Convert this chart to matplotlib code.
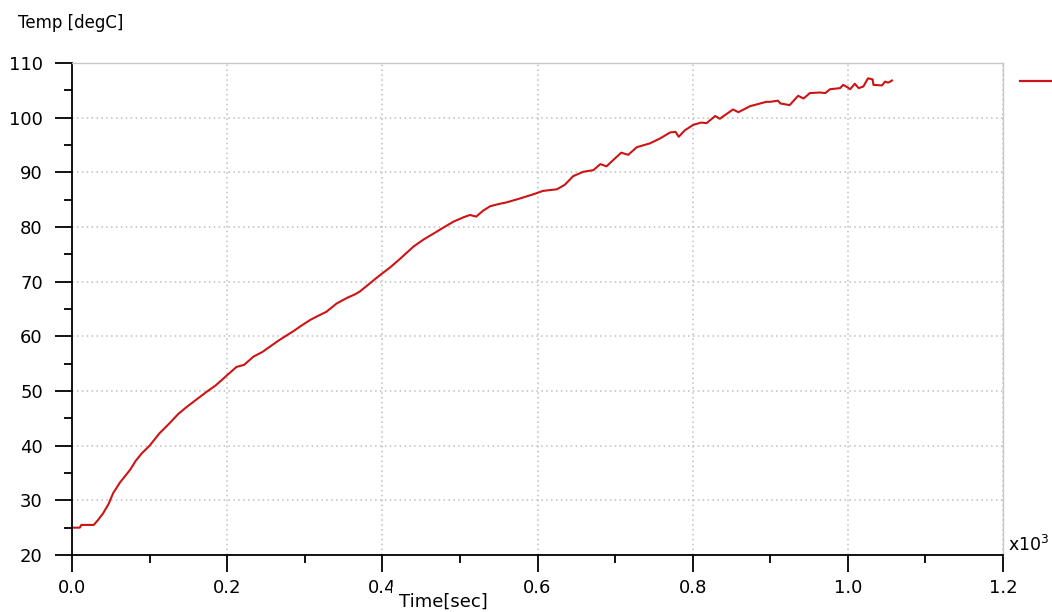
import matplotlib
matplotlib.use("Agg")
import matplotlib.pyplot as plt
from matplotlib.lines import Line2D
from matplotlib.ticker import MultipleLocator, FormatStrFormatter

# time in units of 10^3 s, temperature in degC
time_ks = [0.000, 0.010, 0.012, 0.028, 0.033, 0.040, 0.047, 0.053, 0.062, 0.075,
           0.082, 0.090, 0.100, 0.113, 0.125, 0.137, 0.148, 0.160, 0.174, 0.185,
           0.193, 0.200, 0.212, 0.222, 0.234, 0.245, 0.255, 0.266, 0.277, 0.286,
           0.294, 0.307, 0.318, 0.328, 0.341, 0.354, 0.365, 0.371, 0.384, 0.397,
           0.410, 0.423, 0.440, 0.453, 0.466, 0.480, 0.492, 0.505, 0.513, 0.521,
           0.530, 0.539, 0.550, 0.560, 0.577, 0.595, 0.607, 0.625, 0.635, 0.646,
           0.659, 0.672, 0.681, 0.689, 0.698, 0.708, 0.717, 0.728, 0.745, 0.758,
           0.771, 0.778, 0.782, 0.790, 0.801, 0.811, 0.818, 0.829, 0.835, 0.852,
           0.859, 0.874, 0.895, 0.900, 0.910, 0.913, 0.925, 0.936, 0.943, 0.951,
           0.964, 0.971, 0.977, 0.990, 0.994, 0.999, 1.003, 1.009, 1.014, 1.020,
           1.026, 1.032, 1.033, 1.044, 1.048, 1.052, 1.057]
temp_c = [25.0, 25.0, 25.5, 25.5, 26.3, 27.6, 29.3, 31.3, 33.3, 35.6,
          37.2, 38.6, 40.0, 42.3, 44.0, 45.8, 47.1, 48.4, 49.9, 51.0,
          52.0, 52.9, 54.4, 54.8, 56.3, 57.1, 58.1, 59.2, 60.2, 61.0,
          61.8, 63.0, 63.8, 64.5, 66.0, 67.0, 67.7, 68.2, 69.7, 71.2,
          72.6, 74.2, 76.4, 77.7, 78.8, 80.0, 81.0, 81.8, 82.2, 81.9,
          83.0, 83.8, 84.2, 84.5, 85.2, 86.0, 86.6, 86.9, 87.7, 89.3,
          90.1, 90.4, 91.5, 91.1, 92.3, 93.6, 93.2, 94.6, 95.3, 96.2,
          97.3, 97.4, 96.5, 97.7, 98.7, 99.1, 99.0, 100.3, 99.8, 101.5,
          101.0, 102.1, 102.9, 102.9, 103.1, 102.6, 102.3, 104.0, 103.5, 104.5,
          104.6, 104.5, 105.2, 105.4, 106.0, 105.6, 105.2, 106.2, 105.4, 105.7,
          107.2, 107.0, 106.0, 105.9, 106.6, 106.4, 106.8]

x_major = [0.0, 0.2, 0.4, 0.6, 0.8, 1.0, 1.2]
y_major = [20, 30, 40, 50, 60, 70, 80, 90, 100, 110]

line_color = "#cc1414"

fig = plt.figure(figsize=(10.52, 6.12), dpi=100)
ax = fig.add_axes([72 / 1052, 1 - 555 / 612, (1003 - 72) / 1052, (555 - 63) / 612])

ax.plot(time_ks, temp_c, color=line_color, lw=1.5, solid_joinstyle="round")

ax.set_xlim(0, 1.2)
ax.set_ylim(20, 110)
ax.set_xticks(x_major)
ax.set_yticks(y_major)
ax.xaxis.set_minor_locator(MultipleLocator(0.1))
ax.yaxis.set_minor_locator(MultipleLocator(5))
ax.xaxis.set_major_formatter(FormatStrFormatter("%.1f"))

ax.grid(True, which="major", color="#bdbdbd", linestyle=(0, (1, 2.2)), lw=1.1)
ax.set_axisbelow(True)

for s in ["left", "bottom"]:
    ax.spines[s].set_color("black")
    ax.spines[s].set_linewidth(1.3)
for s in ["top", "right"]:
    ax.spines[s].set_color("#c8c8c8")
    ax.spines[s].set_linewidth(1.0)

ax.tick_params(axis="both", which="major", direction="out", length=12, width=1.3,
               color="black", labelsize=13)
ax.tick_params(axis="both", which="minor", direction="out", length=5.5, width=1.3,
               color="black")
ax.tick_params(axis="y", which="major", pad=9)
ax.tick_params(axis="x", which="major", pad=5)
ax.tick_params(top=False, right=False, which="both")

fig.text(18 / 1052, 1 - 23 / 612, "Temp [degC]", fontsize=12, ha="left", va="center")
fig.text(443 / 1052, 1 - 607 / 612, "Time[sec]", fontsize=13, ha="center", va="baseline",
         bbox=dict(facecolor="white", edgecolor="none", pad=4.5), zorder=10)
fig.text(1008 / 1052, 1 - 545 / 612, r"x10$^{3}$", fontsize=12.5, ha="left", va="center")

fig.add_artist(Line2D([1020 / 1052, 1.0], [1 - 81 / 612, 1 - 81 / 612],
                      transform=fig.transFigure, color=line_color, lw=1.6))

fig.savefig("out.png", dpi=100, facecolor="white")
